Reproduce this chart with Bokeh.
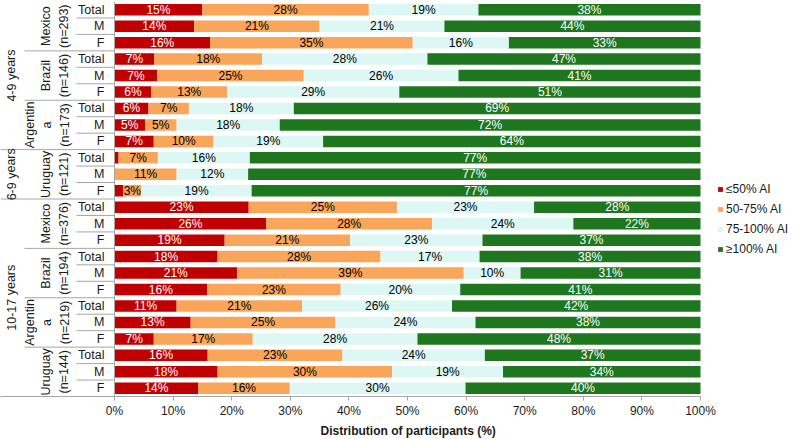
from bokeh.plotting import figure
from bokeh.models import ColumnDataSource, Range1d, FixedTicker, PrintfTickFormatter, Title
from bokeh.core.properties import value
from bokeh.embed import file_html
from bokeh.resources import INLINE

# ---------------- data ----------------
age_groups = ["4-9 years", "6-9 years", "10-17 years"]
countries = ["Mexico\n(n=293)", "Brazil\n(n=146)", "Argentin\na\n(n=173)",
             "Uruguay\n(n=121)",
             "Mexico\n(n=376)", "Brazil\n(n=194)", "Argentin\na\n(n=219)", "Uruguay\n(n=144)"]
country_age = [0, 0, 0, 1, 2, 2, 2, 2]
sexes = ["Total", "M", "F"]
categories = ["≤50% AI", "50-75% AI", "75-100% AI", "≥100% AI"]

le50 = [15.0, 13.6, 16.3, 6.8, 7.3, 6.3, 5.8, 5.2, 6.7, 0.7, 0.0, 1.5,
        22.9, 25.9, 18.8, 17.6, 20.9, 15.8, 10.6, 13.0, 6.7, 15.9, 17.6, 14.3]
p50_75 = [28.4, 21.4, 34.6, 18.4, 25.0, 12.9, 6.9, 5.4, 10.2, 6.7, 10.6, 3.1,
          25.3, 28.3, 21.4, 27.8, 38.7, 22.8, 21.4, 24.7, 16.9, 23.0, 29.8, 15.6]
p75_100 = [18.7, 21.3, 16.4, 28.2, 26.4, 29.4, 17.9, 17.6, 18.7, 15.7, 12.2, 18.8,
           23.4, 24.1, 22.6, 16.9, 9.7, 20.4, 25.6, 23.9, 28.1, 24.3, 18.9, 30.0]
ge100 = [37.9, 43.7, 32.7, 46.6, 41.3, 51.4, 69.4, 71.8, 64.4, 76.9, 77.2, 76.6,
         28.4, 21.7, 37.2, 37.7, 30.7, 41.0, 42.4, 38.4, 48.3, 36.8, 33.7, 40.1]

x_ticks = [0, 10, 20, 30, 40, 50, 60, 70, 80, 90, 100]
x_title = "Distribution of participants (%)"

# ---------------- style ----------------
FONT = "Liberation Sans"
colors = ["#C00000", "#F9A65A", "#DCF7F4", "#1E761E"]
text_colors = ["#FFFFFF", "#000000", "#000000", "#FFFFFF"]
GRID = "#A6A6A6"
TXT = "#1a1a1a"

W, H = 793, 439
PX0, PX100 = 114.0, 700.0            # screen x of 0% and 100%
SC = (PX100 - PX0) / 100.0           # px per unit


def dx(px):
    return (px - PX0) / SC


X_LEFT = dx(0)
X_RIGHT = dx(W)
X_SEP_SEX = dx(76)
X_SEP_COUNTRY = dx(24)
X_SEX_LABEL = dx(104)
X_AGE_LABEL = dx(11)
COUNTRY_RIGHT_PX = 70.0
LINE_PX = 12.5 * 1.25

n_rows = len(le50)
keys = ["le50", "p50_75", "p75_100", "ge100"]
series = [le50, p50_75, p75_100, ge100]
ys = [n_rows - 0.5 - i for i in range(n_rows)]
row_sex = [sexes[i % 3] for i in range(n_rows)]
row_country = [i // 3 for i in range(n_rows)]
row_age = [country_age[c] for c in row_country]

src = ColumnDataSource(dict(y=ys, le50=le50, p50_75=p50_75, p75_100=p75_100, ge100=ge100))

p = figure(width=W, height=H, output_backend="svg", toolbar_location=None,
           x_range=Range1d(X_LEFT, X_RIGHT), y_range=Range1d(0, n_rows),
           y_axis_location=None, min_border_left=0, min_border_right=0,
           min_border_top=1, min_border_bottom=0)
p.outline_line_color = None
p.xgrid.visible = False
p.ygrid.visible = False

renderers = p.hbar_stack(keys, y="y", height=0.70, color=colors, line_color=None,
                         source=src, legend_label=categories)

# segment labels
lx, ly, lt, lc = [], [], [], []
for i in range(n_rows):
    start = 0.0
    for k, s in enumerate(series):
        v = s[i]
        if v >= 2.5:
            lx.append(start + v / 2)
            ly.append(ys[i])
            lt.append(f"{round(v)}%")
            lc.append(text_colors[k])
        start += v
p.text(x=lx, y=ly, text=lt, text_color=lc, text_align="center", text_baseline="middle",
       text_font=value(FONT), text_font_size="12px")

# left category area: separators
sx0, sx1, sy = [], [], []
for b in range(1, n_rows):
    yb = n_rows - b
    if row_age[b] != row_age[b - 1]:
        xs = X_LEFT
    elif row_country[b] != row_country[b - 1]:
        xs = X_SEP_COUNTRY
    else:
        xs = X_SEP_SEX
    sx0.append(xs); sx1.append(0); sy.append(yb)
p.segment(x0=sx0, y0=sy, x1=sx1, y1=sy, line_color=GRID, line_width=1)
p.segment(x0=[0], y0=[0], x1=[0], y1=[n_rows], line_color=GRID, line_width=1)

# sex labels
p.text(x=[X_SEX_LABEL] * n_rows, y=ys, text=row_sex, text_align="right",
       text_baseline="middle", text_font=value(FONT), text_font_size="12.5px",
       text_color=TXT)

# country labels (block right edge fixed, centred per number of lines)
cy = [n_rows - 3 * c - 1.5 for c in range(len(countries))]
cx = [dx(COUNTRY_RIGHT_PX - (t.count("\n") + 1) * LINE_PX / 2) for t in countries]
p.text(x=cx, y=cy, text=countries, angle=1.5708,
       text_align="center", text_baseline="middle", text_font=value(FONT),
       text_font_size="12.5px", text_line_height=1.25, text_color=TXT)

# age group labels
ay = []
for a in range(len(age_groups)):
    rows = [i for i in range(n_rows) if row_age[i] == a]
    ay.append(n_rows - (min(rows) + max(rows) + 1) / 2)
p.text(x=[X_AGE_LABEL] * len(age_groups), y=ay, text=age_groups, angle=1.5708,
       text_align="center", text_baseline="middle", text_font=value(FONT),
       text_font_size="12.5px", text_color=TXT)

# x axis
ax = p.xaxis[0]
ax.bounds = (X_LEFT, 100)
ax.ticker = FixedTicker(ticks=x_ticks, minor_ticks=[])
ax.formatter = PrintfTickFormatter(format="%d%%")
ax.axis_line_color = GRID
ax.major_tick_line_color = GRID
ax.major_tick_out = 4
ax.major_tick_in = 0
ax.minor_tick_line_color = None
ax.major_label_text_font = FONT
ax.major_label_text_font_size = "12px"
ax.major_label_text_color = TXT
ax.major_label_standoff = 3

# axis title placed under the 0-100% span
t = Title(text=x_title, align="left", offset=320, standoff=3,
          text_font=FONT, text_font_size="12px", text_font_style="bold",
          text_color=TXT)
p.add_layout(t, "below")

# legend
lg = p.legend[0]
lg.orientation = "vertical"
lg.glyph_width = 6
lg.glyph_height = 6
lg.label_height = 6
lg.spacing = 6
lg.padding = 0
lg.margin = 0
lg.label_standoff = 3
lg.border_line_color = None
lg.background_fill_alpha = 0
lg.label_text_font = FONT
lg.label_text_font_size = "12px"
lg.label_text_color = TXT
lg.label_text_baseline = "middle"
lg.location = (717, 140)

open("out.html", "w").write(file_html(p, INLINE))
